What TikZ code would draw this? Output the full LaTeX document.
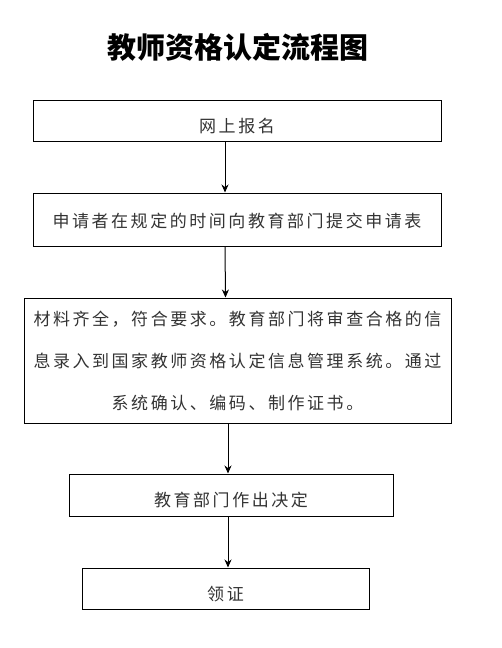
\documentclass[tikz,border=0pt]{standalone}
\usepackage{fontspec}
\newfontfamily\cjk[LetterSpace=15]{Noto Sans CJK SC}
\newfontfamily\cjktitle{Noto Sans CJK SC}
\usetikzlibrary{arrows.meta}
\tikzset{
  stepbox/.style={draw,line width=1pt,minimum height=41pt,inner sep=0pt,
    font=\cjk\fontsize{17}{20}\selectfont,text=black!80,
    text height=23pt,text depth=0pt},
  arr/.style={-{Stealth[length=8pt,width=7pt]},line width=1pt}
}
\begin{document}
\begin{tikzpicture}[x=1pt,y=-1pt]
\useasboundingbox (0,0) rectangle (502,648);
\node[font=\cjktitle\bfseries\fontsize{29}{32}\selectfont] (title) at (238,47) {教师资格认定流程图};
\node[stepbox,minimum width=408pt] (web) at (237,120.5) {网上报名};
\node[stepbox,minimum width=408pt,minimum height=53pt,text height=16pt] (apply) at (237,219.5) {申请者在规定的时间向教育部门提交申请表};
\node[draw,line width=1pt,minimum width=427pt,minimum height=125pt,inner sep=0pt,
  font=\cjk\fontsize{17}{42}\selectfont,text=black!80,align=center] (check) at (237.5,360.5)
  {材料齐全，符合要求。教育部门将审查合格的信\\息录入到国家教师资格认定信息管理系统。通过\\系统确认、编码、制作证书。};
\node[stepbox,minimum width=324pt,minimum height=42pt] (decide) at (231,495) {教育部门作出决定};
\node[stepbox,minimum width=287pt] (cert) at (225.5,588.5) {领证};
% connectors
\draw[arr] ([xshift=-12pt]web.south) -- ([xshift=-12pt]apply.north);
\draw[arr] ([xshift=-12pt]apply.south) -- ([xshift=-12pt]check.north);
\draw[arr] ([xshift=-9.5pt]check.south) -- ([xshift=-3pt]decide.north);
\draw[arr] ([xshift=-3pt]decide.south) -- ([xshift=2.5pt]cert.north);
\end{tikzpicture}
\end{document}
